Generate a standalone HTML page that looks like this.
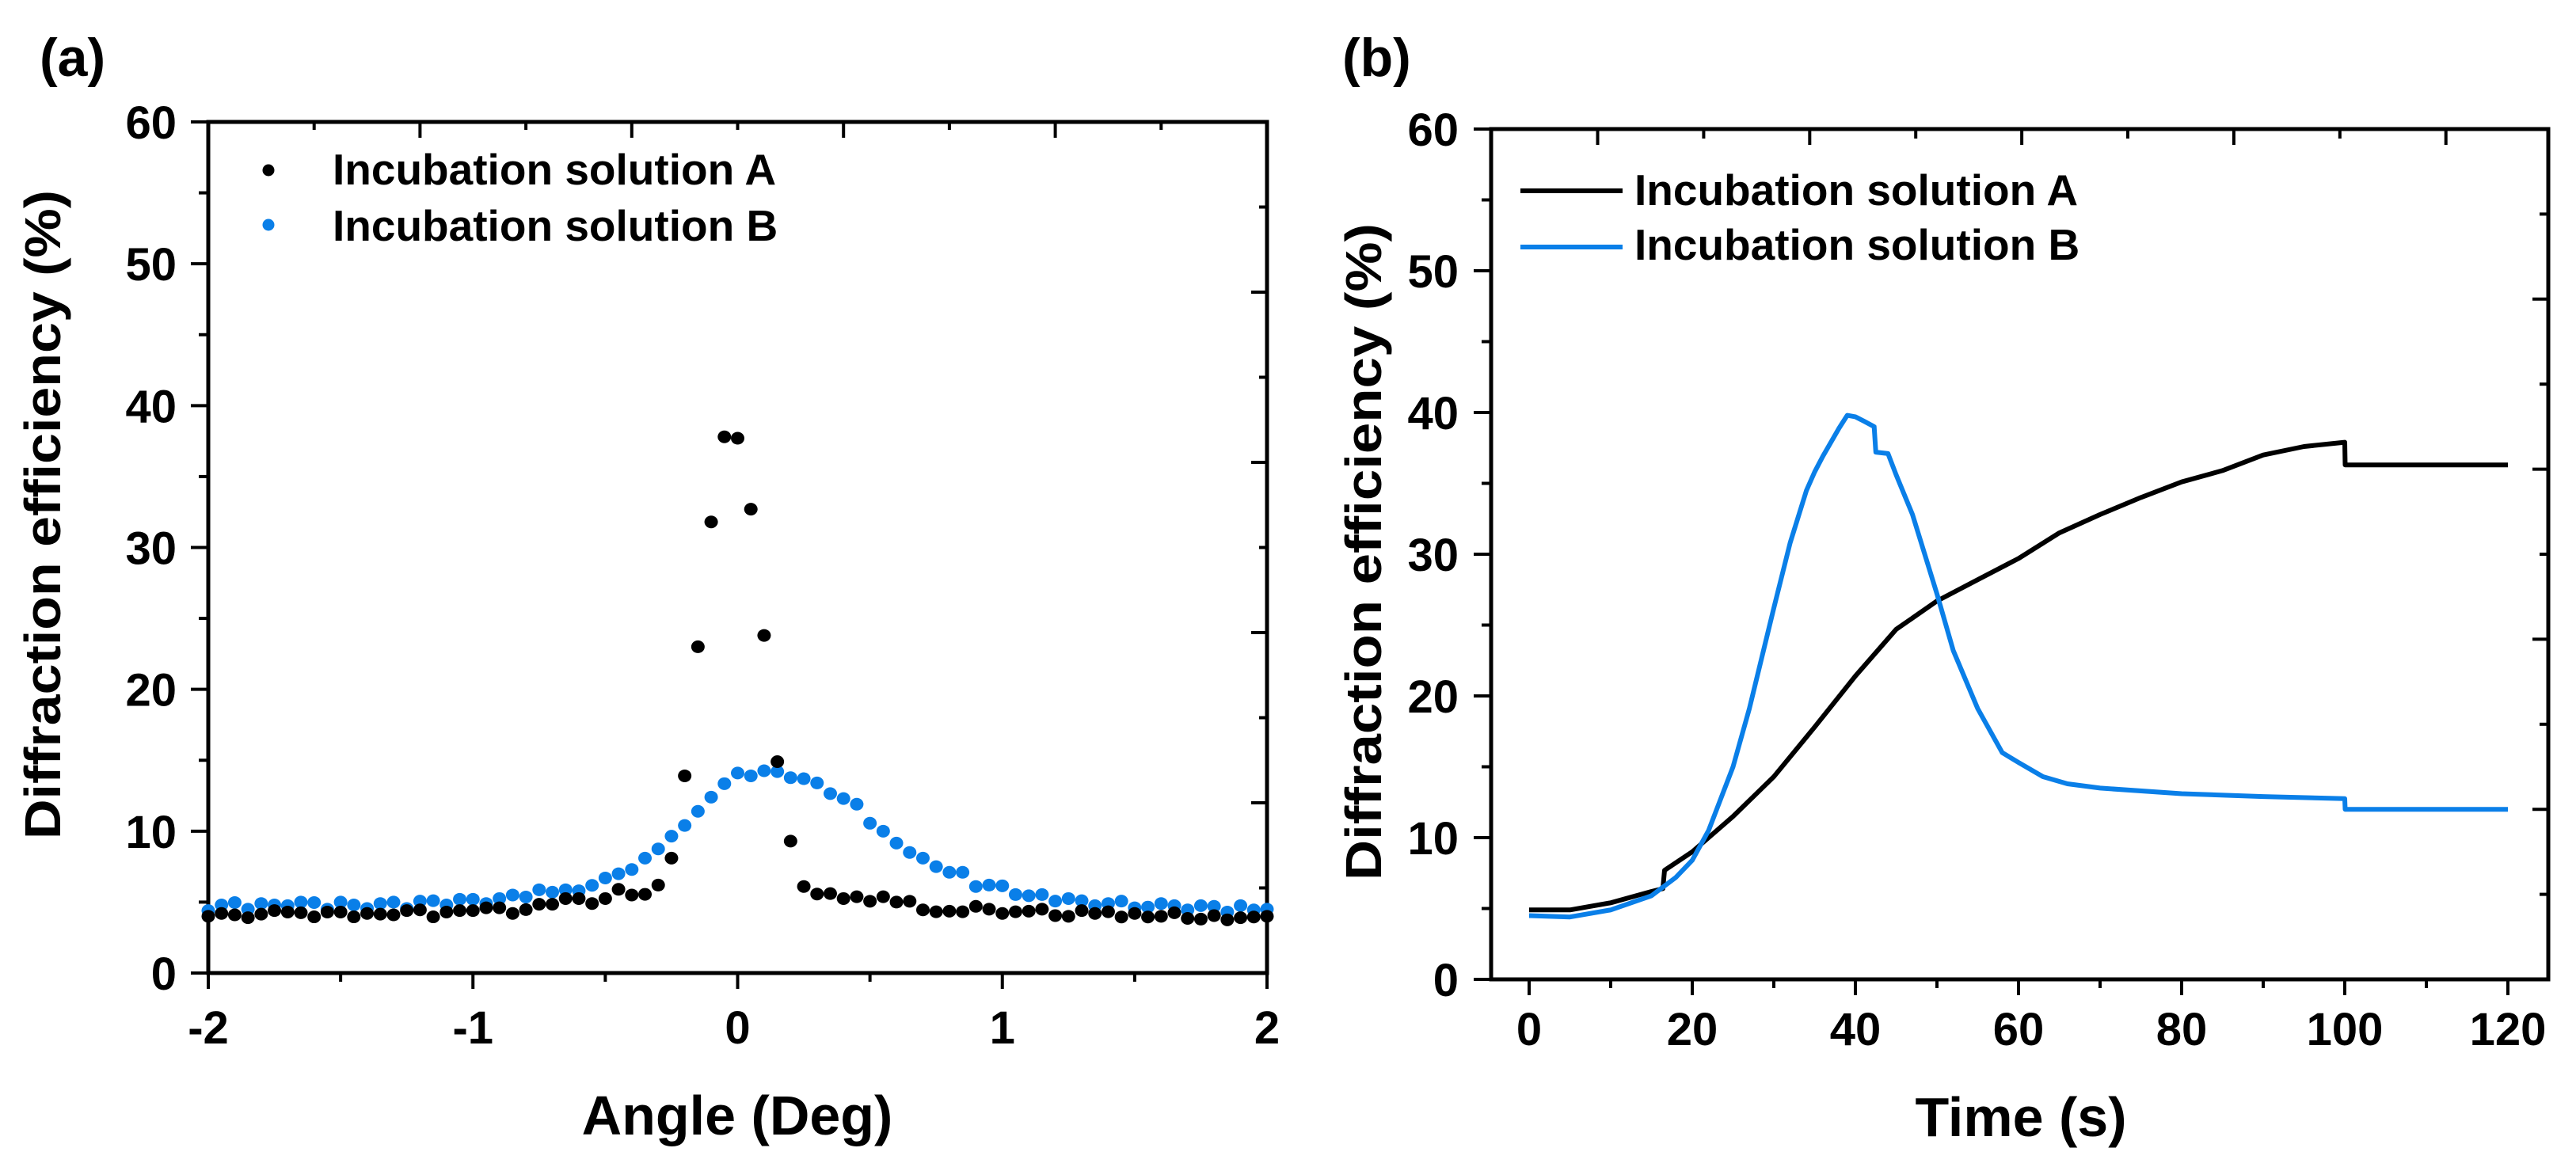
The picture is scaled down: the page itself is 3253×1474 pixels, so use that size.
<!DOCTYPE html>
<html><head><meta charset="utf-8"><style>
html,body{margin:0;padding:0;background:#fff;}
svg{display:block;font-family:"Liberation Sans",Arial,sans-serif;font-weight:bold;}
</style></head><body>
<svg id="fig" width="3253" height="1474" viewBox="0 0 3253 1474" xmlns="http://www.w3.org/2000/svg">
<g id="pa"></g>
<g id="pb"></g>
</svg>
<script>
// Panel (a) data
const angleStart = -2, angleStep = 0.05;
const seriesA_pts = [4.0,4.2,4.1,3.9,4.15,4.4,4.3,4.25,3.96,4.3,4.3,3.96,4.2,4.15,4.1,4.4,4.45,3.96,4.3,4.4,
 4.4,4.6,4.6,4.2,4.47,4.85,4.85,5.25,5.25,4.9,5.25,5.9,5.5,5.55,6.2,8.1,13.9,23.0,31.8,37.8,
 37.7,32.7,23.8,14.9,9.3,6.1,5.57,5.6,5.25,5.38,5.06,5.38,5.0,5.06,4.45,4.32,4.36,4.32,4.7,4.5,
 4.2,4.32,4.36,4.5,4.05,4.0,4.4,4.2,4.32,3.95,4.2,3.95,4.0,4.25,3.85,3.8,4.05,3.75,3.9,3.95,4.0];
const seriesB_pts = [4.4,4.8,4.97,4.5,4.9,4.8,4.75,5.0,4.97,4.5,5.0,4.8,4.55,4.9,5.0,4.55,5.07,5.1,4.8,5.2,
 5.2,4.9,5.25,5.5,5.36,5.87,5.7,5.87,5.8,6.18,6.7,7.0,7.3,8.1,8.75,9.65,10.4,11.4,12.4,13.35,
 14.1,13.9,14.26,14.2,13.77,13.7,13.4,12.65,12.3,11.9,10.56,10.0,9.16,8.5,8.1,7.5,7.1,7.1,6.1,6.2,
 6.15,5.53,5.45,5.53,5.07,5.25,5.1,4.75,4.9,5.07,4.6,4.65,4.9,4.75,4.45,4.75,4.7,4.3,4.75,4.45,4.5];
const aXTicks = [-2,-1,0,1,2];
const aYTicks = [0,10,20,30,40,50,60];

// Panel (b) data
const timeA = [0,5,10,15,16.4,16.6,20,25,30,35,40,45,50,55,60,65,70,75,80,85,90,95,100,100.05,110,120];
const valsA = [4.9,4.9,5.4,6.2,6.4,7.7,9.0,11.5,14.3,17.8,21.4,24.7,26.7,28.2,29.7,31.5,32.8,34.0,35.1,35.9,37.0,37.6,37.9,36.3,36.3,36.3];
const timeB = [0,5,10,15,18,20,22,25,27,30,32,34,35,36,37,38,39,40,41,42.3,42.5,44,45,47,50,52,55,58,60,63,66,70,80,90,100,100.05,110,120];
const valsB = [4.5,4.4,4.9,5.9,7.2,8.4,10.5,15.0,19.1,26.2,30.8,34.5,35.8,36.9,37.9,38.9,39.8,39.7,39.4,39.0,37.2,37.1,35.6,32.8,27.2,23.2,19.1,16.0,15.3,14.3,13.8,13.5,13.1,12.9,12.75,12.0,12.0,12.0];
const bXTicks = [0,20,40,60,80,100,120];
const bYTicks = [0,10,20,30,40,50,60];

const NS = "http://www.w3.org/2000/svg";
function mk(tag, parent, attrs, text){
  const e = document.createElementNS(NS, tag);
  for (const k in attrs) e.setAttribute(k, attrs[k]);
  if (text !== undefined) e.textContent = text;
  parent.appendChild(e);
  return e;
}
const BLUE = "#0a7fe8";

// ---------- Panel A ----------
(function(){
  const g = document.getElementById('pa');
  const L=263, R=1600, T=154, B=1229;
  const xs = v => L + (v - (-2)) / 4 * (R - L);
  const ys = v => B - v / 60 * (B - T);
  aYTicks.forEach(v=>{
    const t = mk('line', g, {x1:L-22,x2:L,y1:ys(v),y2:ys(v),stroke:'#000','stroke-width':4});
    
    
    const lb = mk('text', g, {x:223,y:ys(v)+21,'text-anchor':'end','font-size':58}, String(v));
    
    
  });
  for (let v=5; v<60; v+=10){ mk('line', g, {x1:L-12,x2:L,y1:ys(v),y2:ys(v),stroke:'#000','stroke-width':4}); }
  aXTicks.forEach(v=>{
    const t = mk('line', g, {x1:xs(v),x2:xs(v),y1:B,y2:B+20,stroke:'#000','stroke-width':4});
    
    
    const lb = mk('text', g, {x:xs(v),y:1318,'text-anchor':'middle','font-size':58}, v<0?('-'+Math.abs(v)):String(v));
    
    
  });
  [-1.5,-0.5,0.5,1.5].forEach(v=>mk('line', g, {x1:xs(v),x2:xs(v),y1:B,y2:B+11,stroke:'#000','stroke-width':4}));
  [-1.6,-1.2,-0.8,-0.4,0,0.4,0.8,1.2,1.6].forEach((v,i)=>mk('line', g, {x1:xs(v),x2:xs(v),y1:T,y2:T+(i%2?20:10),stroke:'#000','stroke-width':4}));
  for (let v=6; v<60; v+=6) mk('line', g, {x1:R,x2:R-(v%12===0?20:10),y1:ys(v),y2:ys(v),stroke:'#000','stroke-width':4});
  const fr = mk('rect', g, {x:L,y:T,width:R-L,height:B-T,fill:'none',stroke:'#000','stroke-width':5});
  
  
  seriesB_pts.forEach((v,i)=>{
    const c = mk('ellipse', g, {cx:xs(angleStart+i*angleStep),cy:ys(v),rx:8.5,ry:8,fill:BLUE});
    
    
  });
  seriesA_pts.forEach((v,i)=>{
    const c = mk('ellipse', g, {cx:xs(angleStart+i*angleStep),cy:ys(v),rx:8.5,ry:8,fill:'#000'});
    
    
  });
  const l1 = mk('circle', g, {cx:339,cy:215,r:7.5,fill:'#000'});
  
  
  const t1 = mk('text', g, {x:420,y:233,'font-size':55}, 'Incubation solution A');
  
  
  const l2 = mk('circle', g, {cx:339,cy:284,r:7.5,fill:BLUE});
  
  
  const t2 = mk('text', g, {x:420,y:304,'font-size':55}, 'Incubation solution B');
  
  
  const xt = mk('text', g, {x:931,y:1433,'text-anchor':'middle','font-size':70}, 'Angle (Deg)');
  
  
  const yt = mk('text', g, {x:0,y:0,'text-anchor':'middle','font-size':64,textLength:820,lengthAdjust:'spacingAndGlyphs',transform:'translate(76,650) rotate(-90)'}, 'Diffraction efficiency (%)');
  
  
  const pl = mk('text', g, {x:50,y:96,'font-size':68}, '(a)');
  
  
})();

// ---------- Panel B ----------
(function(){
  const g = document.getElementById('pb');
  const L=1883, R=3218, T=163, B=1237;
  const xs = v => 1931 + v / 120 * (3167 - 1931);
  const ys = v => B - v / 60 * (B - T);
  bYTicks.forEach(v=>{
    const t = mk('line', g, {x1:L-22,x2:L,y1:ys(v),y2:ys(v),stroke:'#000','stroke-width':4});
    
    
    const lb = mk('text', g, {x:1842,y:ys(v)+21,'text-anchor':'end','font-size':58}, String(v));
    
    
  });
  for (let v=5; v<60; v+=10) mk('line', g, {x1:L-12,x2:L,y1:ys(v),y2:ys(v),stroke:'#000','stroke-width':4});
  bXTicks.forEach(v=>{
    const t = mk('line', g, {x1:xs(v),x2:xs(v),y1:B,y2:B+20,stroke:'#000','stroke-width':4});
    
    
    const lb = mk('text', g, {x:xs(v),y:1320,'text-anchor':'middle','font-size':58}, String(v));
    
    
  });
  for (let v=10; v<=110; v+=20) mk('line', g, {x1:xs(v),x2:xs(v),y1:B,y2:B+11,stroke:'#000','stroke-width':4});
  for (let k=0; k<9; k++){ const v = 8.4 + k*13; mk('line', g, {x1:xs(v),x2:xs(v),y1:T,y2:T+(k%2?12:20),stroke:'#000','stroke-width':4}); }
  for (let v=6; v<60; v+=6) mk('line', g, {x1:R,x2:R-(v%12===0?20:11),y1:ys(v),y2:ys(v),stroke:'#000','stroke-width':4});
  const fr = mk('rect', g, {x:L,y:T,width:R-L,height:B-T,fill:'none',stroke:'#000','stroke-width':5});
  
  
  const pa = timeA.map((t,i)=>xs(t).toFixed(1)+','+ys(valsA[i]).toFixed(1)).join(' ');
  const la = mk('polyline', g, {points:pa,fill:'none',stroke:'#000','stroke-width':6,'stroke-linejoin':'round'});
  
  
  const pbp = timeB.map((t,i)=>xs(t).toFixed(1)+','+ys(valsB[i]).toFixed(1)).join(' ');
  const lbn = mk('polyline', g, {points:pbp,fill:'none',stroke:BLUE,'stroke-width':6,'stroke-linejoin':'round'});
  
  
  const g1 = mk('line', g, {x1:1920,x2:2049,y1:241,y2:241,stroke:'#000','stroke-width':6});
  
  
  const t1 = mk('text', g, {x:2064,y:259,'font-size':55}, 'Incubation solution A');
  
  
  const g2 = mk('line', g, {x1:1920,x2:2049,y1:312,y2:312,stroke:BLUE,'stroke-width':6});
  
  
  const t2 = mk('text', g, {x:2064,y:328,'font-size':55}, 'Incubation solution B');
  
  
  const xt = mk('text', g, {x:2552,y:1435,'text-anchor':'middle','font-size':70}, 'Time (s)');
  
  
  const yt = mk('text', g, {x:0,y:0,'text-anchor':'middle','font-size':64,textLength:830,lengthAdjust:'spacingAndGlyphs',transform:'translate(1744,697) rotate(-90)'}, 'Diffraction efficiency (%)');
  
  
  const pl = mk('text', g, {x:1695,y:96,'font-size':68}, '(b)');
  
  
})();
</script>
</body></html>
